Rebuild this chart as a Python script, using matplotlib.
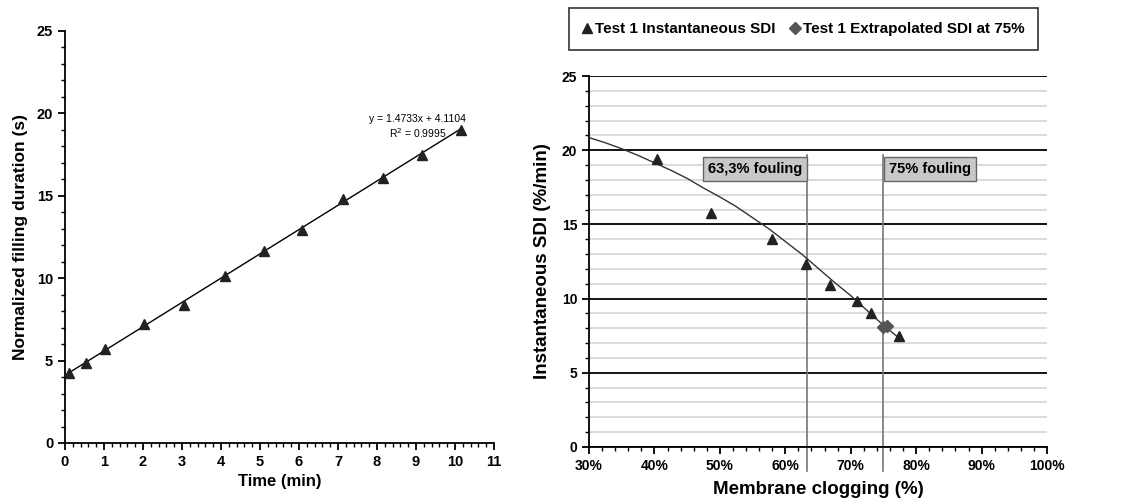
import matplotlib
matplotlib.use("Agg")
import matplotlib.pyplot as plt
import numpy as np
from matplotlib.ticker import MultipleLocator, FuncFormatter

plt.rcParams['font.family'] = ['Liberation Sans', 'DejaVu Sans']

# left panel: filling duration vs time
time_min = [0.1, 0.54, 1.03, 2.03, 3.06, 4.1, 5.1, 6.09, 7.12, 8.15, 9.15, 10.15]
fill_dur = [4.25, 4.85, 5.7, 7.2, 8.4, 10.15, 11.65, 12.95, 14.8, 16.05, 17.5, 19.0]
fit_slope = 1.4733
fit_icpt = 4.1104
fit_r2 = 0.9995

# right panel: instantaneous SDI vs membrane clogging
clog_pct = [40.4, 48.7, 57.9, 63.2, 66.9, 71.0, 73.1, 77.4]
sdi_inst = [19.4, 15.8, 14.0, 12.3, 10.9, 9.85, 9.0, 7.5]
clog_extra = [75.0, 75.6]
sdi_extra = [8.1, 8.15]
trend_x = [30, 32.5, 35, 37.5, 40, 42.5, 45, 47.5, 50, 52.5, 55, 57.5, 60, 62.5,
           65, 67.5, 70, 72.5, 75, 77.5]
trend_y = [20.85, 20.5, 20.1, 19.65, 19.15, 18.65, 18.1, 17.45, 16.85, 16.2, 15.45,
           14.7, 13.85, 13.0, 12.05, 11.1, 10.2, 9.2, 8.2, 7.3]
fouling_marks = [63.3, 75.0]

fig = plt.figure(figsize=(11.34, 5.0), dpi=100)

# ---- left chart
ax1 = fig.add_axes([0.0573, 0.114, 0.3783, 0.824])
xs = np.array([time_min[0], time_min[-1]])
ax1.plot(xs, fit_slope * xs + fit_icpt, color='black', lw=1.0, zorder=2)
ax1.plot(time_min, fill_dur, linestyle='none', marker='^', ms=7.5, color='#222222', zorder=3)
ax1.text(9.04, 19.65, f"y = {fit_slope}x + {fit_icpt}", ha='center', va='center', fontsize=7.5)
ax1.text(9.04, 18.8, f"R$^2$ = {fit_r2}", ha='center', va='center', fontsize=7.5)
ax1.set_xlim(0, 11)
ax1.set_ylim(0, 25)
ax1.xaxis.set_major_locator(MultipleLocator(1))
ax1.xaxis.set_minor_locator(MultipleLocator(0.2))
ax1.yaxis.set_major_locator(MultipleLocator(5))
ax1.yaxis.set_minor_locator(MultipleLocator(1))
for s in ['top', 'right']:
    ax1.spines[s].set_visible(False)
for s in ['left', 'bottom']:
    ax1.spines[s].set_linewidth(1.3)
ax1.tick_params(which='major', length=5, width=1.3, labelsize=10.5)
ax1.tick_params(which='minor', length=3, width=1.0)
for lab in ax1.get_xticklabels() + ax1.get_yticklabels():
    lab.set_fontweight('bold')
ax1.set_xlabel("Time (min)", fontsize=12, fontweight='bold', labelpad=4)
ax1.set_ylabel("Normalized filling duration (s)", fontsize=12.5, fontweight='bold', labelpad=6)

# ---- right chart
ax2 = fig.add_axes([0.5194, 0.106, 0.4039, 0.742])
ax2.set_xlim(30, 100)
ax2.set_ylim(0, 25)
ax2.xaxis.set_major_locator(MultipleLocator(10))
ax2.xaxis.set_minor_locator(MultipleLocator(2))
ax2.yaxis.set_major_locator(MultipleLocator(5))
ax2.yaxis.set_minor_locator(MultipleLocator(1))
ax2.xaxis.set_major_formatter(FuncFormatter(lambda v, p: f"{int(round(v))}%"))
ax2.grid(which='minor', axis='y', color='#d4d4d4', lw=1.2, zorder=0)
ax2.grid(which='major', axis='y', color='black', lw=1.3, zorder=1)
for s in ['top', 'right']:
    ax2.spines[s].set_visible(False)
for s in ['left', 'bottom']:
    ax2.spines[s].set_linewidth(1.3)
ax2.tick_params(which='major', length=5, width=1.3, labelsize=10)
ax2.tick_params(which='minor', length=3, width=1.0)
for lab in ax2.get_xticklabels() + ax2.get_yticklabels():
    lab.set_fontweight('bold')

for xv in fouling_marks:
    ax2.plot([xv, xv], [-1.6, 19.65], color='#777777', lw=1.2, clip_on=False, zorder=2)

ax2.plot(trend_x, trend_y, color='#333333', lw=1.0, zorder=3)
ax2.plot(clog_pct, sdi_inst, linestyle='none', marker='^', ms=7.5, color='#222222', zorder=4,
         label='Test 1 Instantaneous SDI')
ax2.plot(clog_extra, sdi_extra, linestyle='none', marker='D', ms=6, color='#555555', zorder=4,
         label='Test 1 Extrapolated SDI at 75%')

box = dict(boxstyle='square,pad=0.35', facecolor='#c8c8c8', edgecolor='#666666', lw=1.0)
ax2.text(62.6, 18.75, "63,3% fouling", ha='right', va='center', fontsize=10.5,
         fontweight='bold', bbox=box, zorder=5)
ax2.text(75.9, 18.75, "75% fouling", ha='left', va='center', fontsize=10.5,
         fontweight='bold', bbox=box, zorder=5)

ax2.set_xlabel("Membrane clogging (%)", fontsize=13.5, fontweight='bold', labelpad=6)
ax2.set_ylabel("Instantaneous SDI (%/min)", fontsize=13.5, fontweight='bold', labelpad=8)

h, l = ax2.get_legend_handles_labels()
leg = fig.legend(h, l, loc='center', bbox_to_anchor=(0.7085, 0.942), ncol=2,
                 frameon=True, fancybox=False, edgecolor='black', handlelength=0.6,
                 handletextpad=0.2, columnspacing=1.0, borderpad=0.9,
                 prop={'weight': 'bold', 'size': 11,
                       'family': ['Liberation Sans Narrow', 'Liberation Sans']})
leg.get_frame().set_linewidth(1.2)

fig.savefig("out.png", dpi=100)
